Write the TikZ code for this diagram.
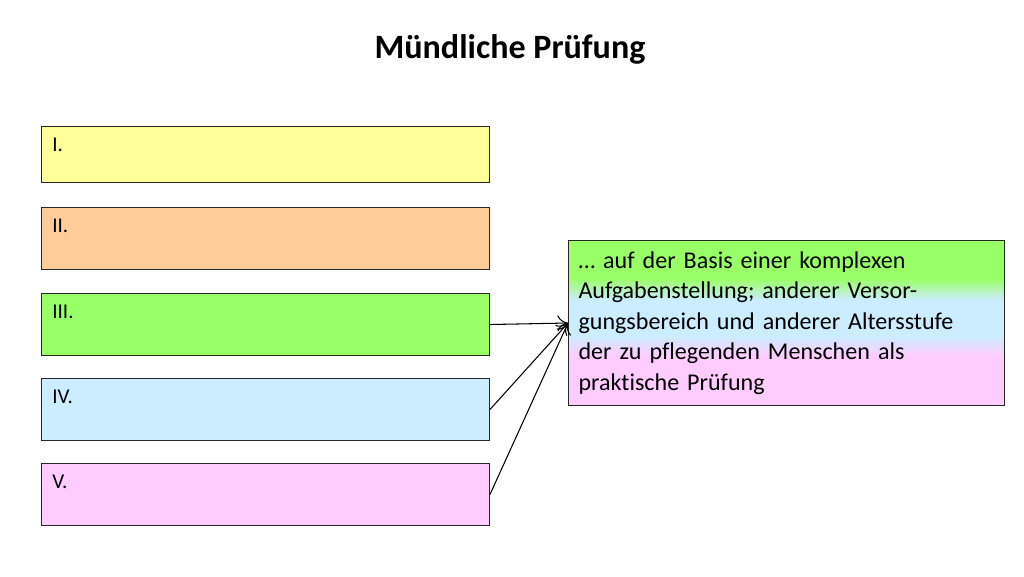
\documentclass[tikz,border=0pt]{standalone}
\usepackage{fontspec}
\setmainfont[Ligatures=NoCommon]{Carlito}
\usetikzlibrary{arrows.meta}

\definecolor{stufeI}{HTML}{FFFF99}
\definecolor{stufeII}{HTML}{FFCC99}
\definecolor{stufeIII}{HTML}{99FF66}
\definecolor{stufeIV}{HTML}{CCECFF}
\definecolor{stufeV}{HTML}{FFCCFF}

\pgfdeclareverticalshading{basisfill}{100bp}{color(0bp)=(stufeV); color(40bp)=(stufeV); color(46bp)=(stufeIV); color(57bp)=(stufeIV); color(63.5bp)=(stufeIII); color(100bp)=(stufeIII)}

\begin{document}
\begin{tikzpicture}[
x=0.02cm, y=-0.02cm,
stufe/.style={
    draw=black!85,
    rectangle,
    anchor=north west,
    minimum width=8.96cm,
    inner sep=0pt,
    line width=0.6pt},
nummer/.style={
    anchor=north west,
    inner sep=0pt,
    font=\fontsize{12}{14}\selectfont},
pfeil/.style={-{To[length=6pt,width=9pt]}, line width=0.6pt}
]

\useasboundingbox (0,0) rectangle (1024,576);

\node (titel) at (510,49) [font=\bfseries\fontsize{19.4}{23}\selectfont] {Mündliche Prüfung};

\node (s1) at (41,126) [stufe, fill=stufeI, minimum height=1.12cm] {};
\node (s2) at (41,207) [stufe, fill=stufeII, minimum height=1.24cm] {};
\node (s3) at (41,293) [stufe, fill=stufeIII, minimum height=1.24cm] {};
\node (s4) at (41,378) [stufe, fill=stufeIV, minimum height=1.24cm] {};
\node (s5) at (41,463) [stufe, fill=stufeV, minimum height=1.24cm] {};

\node (n1) at (52,138) [nummer] {I.};
\node (n2) at (52,219) [nummer] {II.};
\node (n3) at (52,305) [nummer] {III.};
\node (n4) at (52,390) [nummer] {IV.};
\node (n5) at (52,475) [nummer] {V.};

\node (basis) at (568,240) [draw=black!85, line width=0.6pt, rectangle, anchor=north west,
    minimum width=8.72cm, minimum height=3.3cm, shading=basisfill,
    text width=8.32cm, inner xsep=0.2cm, align=left,
    font=\fontsize{13.7}{17.4}\selectfont]
    {… auf der Basis einer komplexen\\ Aufgabenstellung; anderer Versor-\\ gungsbereich und anderer Altersstufe\\ der zu pflegenden Menschen als\\ praktische Prüfung};

\draw[pfeil] (s3.east) -- (basis.west);
\draw[pfeil] (s4.east) -- (basis.west);
\draw[pfeil] (s5.east) -- (basis.west);

\end{tikzpicture}
\end{document}
